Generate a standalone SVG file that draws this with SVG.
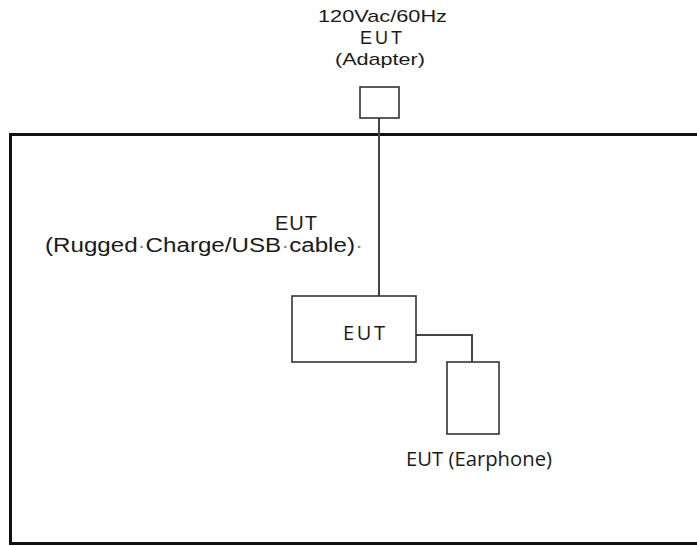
<svg xmlns="http://www.w3.org/2000/svg" width="697" height="546" viewBox="0 0 697 546">
<style>
.t{font-family:"Liberation Sans",Arial,sans-serif;fill:#1a1a1a}
.s{font-family:"Open Sans","Noto Sans","DejaVu Sans",sans-serif;fill:#1a1a1a}
.b{fill:#fff;stroke:#333;stroke-width:1.6}
.w{fill:none;stroke:#444;stroke-width:2}
.d{fill:#888}
</style>
<rect width="697" height="546" fill="#fff"/>
<g id="area"><rect x="10.5" y="134.5" width="700" height="409" fill="none" stroke="#111" stroke-width="3"/></g>
<g id="connectors">
<path class="w" d="M379 118V296"/>
<path class="w" d="M416 335H472V362"/>
</g>
<g id="adapter">
<rect class="b" x="360" y="87" width="39" height="31"/>
<text class="t" x="318" y="22" font-size="17" textLength="129" lengthAdjust="spacingAndGlyphs">120Vac/60Hz</text>
<text class="t" x="360" y="44" font-size="18" textLength="42" lengthAdjust="spacing">EUT</text>
<text class="t" x="335" y="65" font-size="17" textLength="90" lengthAdjust="spacingAndGlyphs">(Adapter)</text>
</g>
<g id="cable">
<text class="t" x="275" y="230" font-size="20" textLength="42" lengthAdjust="spacing">EUT</text>
<text class="t" x="45" y="252" font-size="20" textLength="318" lengthAdjust="spacingAndGlyphs">(Rugged<tspan class="d">·</tspan>Charge/USB<tspan class="d">·</tspan>cable)<tspan class="d">·</tspan></text>
</g>
<g id="eut">
<rect class="b" x="292" y="296" width="124" height="66"/>
<text class="s" x="343" y="340" font-size="20" textLength="42" lengthAdjust="spacing">EUT</text>
</g>
<g id="earphone">
<rect class="b" x="447" y="362" width="52" height="72"/>
<text class="s" x="406" y="466" font-size="20" textLength="146" lengthAdjust="spacingAndGlyphs">EUT (Earphone)</text>
</g>
</svg>
